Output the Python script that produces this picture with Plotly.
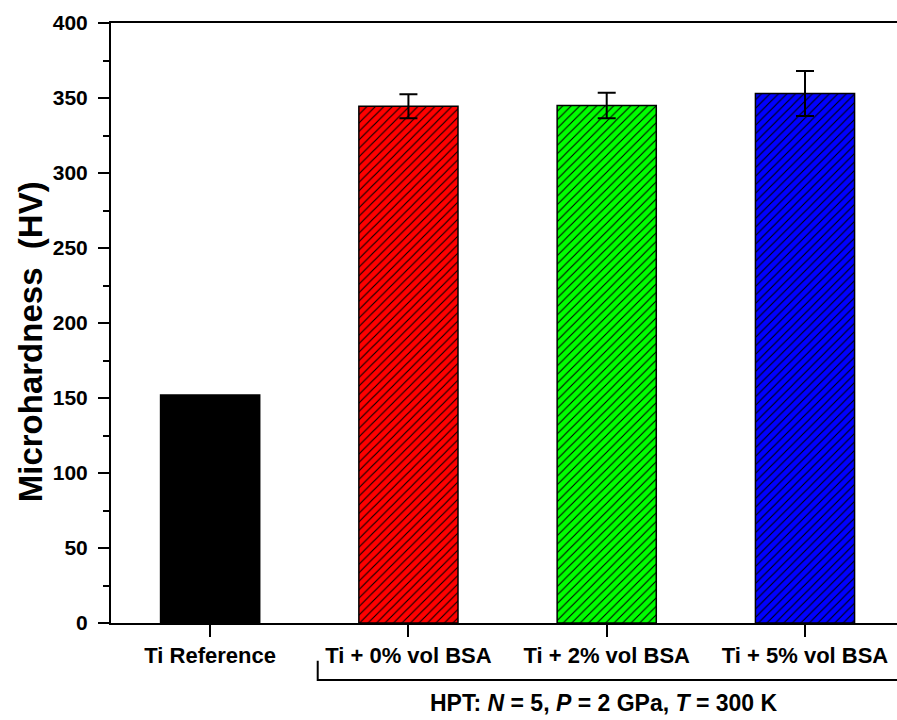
import plotly.graph_objects as go

categories = ["Ti Reference", "Ti + 0% vol BSA", "Ti + 2% vol BSA", "Ti + 5% vol BSA"]
hardness = [152, 344.5, 345, 353]
errors = [0, 8, 8.5, 15]
colors = ["#000000", "#ff0000", "#00ff00", "#0000ff"]
patterns = ["", "/", "/", "/"]

FONT = "Liberation Sans, Arial, sans-serif"

fig = go.Figure()
for i, cat in enumerate(categories):
    pat = dict(shape=patterns[i])
    if patterns[i]:
        pat = dict(shape=patterns[i], fgcolor="#000000", bgcolor=colors[i],
                   fgopacity=1, size=6, solidity=0.18, fillmode="overlay")
    fig.add_trace(go.Bar(
        x=[i], y=[hardness[i]], width=0.5, name=cat,
        marker=dict(color=colors[i], line=dict(color="#000000", width=1.5),
                    pattern=pat),
        error_y=dict(type="data", array=[errors[i]], visible=errors[i] > 0,
                     color="#000000", thickness=2, width=9),
        showlegend=False,
    ))

fig.update_layout(
    width=897, height=720,
    margin=dict(l=111, r=0, t=23, b=97),
    paper_bgcolor="white", plot_bgcolor="white",
    font=dict(family=FONT, color="#000000"),
    barmode="overlay",
)

fig.update_xaxes(
    range=[-0.5, 3.464],
    tickmode="array", tickvals=list(range(len(categories))), ticktext=categories,
    ticks="outside", ticklen=12, tickwidth=2, tickcolor="#000000",
    tickfont=dict(family=FONT, size=22, weight="bold", color="#000000"),
    showline=True, linewidth=2, linecolor="#000000", mirror=True,
    showgrid=False, zeroline=False,
)
fig.update_yaxes(
    range=[0, 400], dtick=50,
    ticks="outside", ticklen=11, tickwidth=2, tickcolor="#000000",
    minor=dict(dtick=25, ticks="outside", ticklen=6, tickwidth=2, tickcolor="#000000"),
    tickfont=dict(family=FONT, size=21, weight="bold", color="#000000"),
    ticklabelstandoff=6,
    showline=True, linewidth=2, linecolor="#000000", mirror=False,
    showgrid=False, zeroline=False,
)

# y-axis title
fig.add_annotation(
    text="Microhardness&nbsp; (HV)", textangle=-90,
    xref="paper", yref="paper", x=-0.103, y=0.468,
    xanchor="center", yanchor="middle", showarrow=False,
    font=dict(family=FONT, size=33, weight="bold", color="#000000"),
)

# bracket grouping the HPT-processed samples
fig.add_shape(
    type="path", xref="paper", yref="paper",
    path="M 0.263,-0.063 L 0.263,-0.095 L 1.01,-0.095",
    line=dict(color="#000000", width=2),
)
fig.add_annotation(
    text="HPT: <i>N</i> = 5, <i>P</i> = 2 GPa, <i>T</i> = 300 K",
    xref="paper", yref="paper", x=0.627, y=-0.133,
    xanchor="center", yanchor="middle", showarrow=False,
    font=dict(family=FONT, size=23, weight="bold", color="#000000"),
)

fig.write_html("out.html")
